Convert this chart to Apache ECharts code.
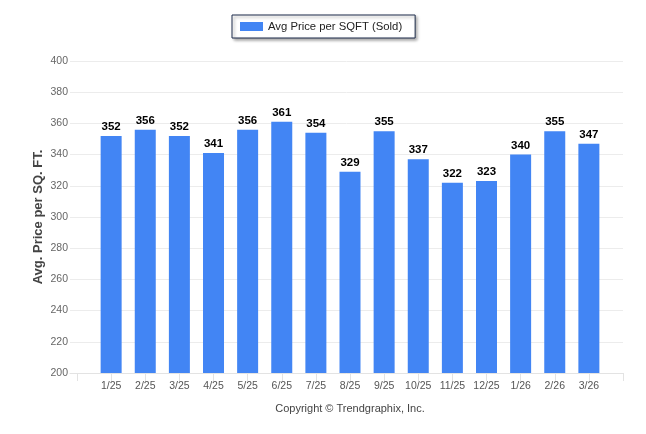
<!DOCTYPE html>
<html>
<head>
<meta charset="utf-8">
<script src="https://cdn.jsdelivr.net/npm/echarts@6/dist/echarts.min.js"></script>
<style>html,body{margin:0;padding:0;background:#fff}#c{width:646px;height:434px}</style>
</head>
<body>
<div id="c"></div>
<script>
var categories = ['1/25','2/25','3/25','4/25','5/25','6/25','7/25','8/25','9/25','10/25','11/25','12/25','1/26','2/26','3/26'];
var values = [352,356,352,341,356,361,354,329,355,337,322,323,340,355,347];
var yTicks = [200,220,240,260,280,300,320,340,360,380,400];
var seriesName = 'Avg Price per SQFT (Sold)';

var chart = echarts.init(document.getElementById('c'));
var FONT = '"Liberation Sans", Arial, sans-serif';
var tickIdx = [];
for (var i = -1; i <= categories.length; i++) tickIdx.push(i);
var labelIdx = categories.map(function(_, i){ return i; });

chart.setOption({
  animation: false,
  textStyle: {fontFamily: FONT},
  legend: {
    top: 15, left: 232,
    data: [seriesName],
    itemWidth: 23, itemHeight: 9, itemGap: 4,
    padding: [6, 13, 6, 8],
    borderColor: '#1c2b4a', borderWidth: 1, borderRadius: 0,
    backgroundColor: '#fff',
    shadowColor: 'rgba(0,0,0,0.35)', shadowBlur: 3, shadowOffsetX: 2, shadowOffsetY: 2,
    textStyle: {fontSize: 11.3, color: '#222', fontFamily: FONT},
    icon: 'rect'
  },
  grid: {left: 70, right: 23, top: 61, bottom: 61, containLabel: false},
  xAxis: {
    type: 'value',
    min: -1 - 7/34.06, max: categories.length,
    axisLine: {show: true, lineStyle: {color: '#e3e3e3'}},
    axisTick: {show: true, customValues: tickIdx, length: 8, lineStyle: {color: '#e3e3e3'}},
    axisLabel: {
      customValues: labelIdx,
      formatter: function(v){ return categories[Math.round(v)] || ''; },
      color: '#555', fontSize: 10.5, margin: 8, fontFamily: FONT
    },
    splitLine: {show: false}
  },
  yAxis: {
    type: 'value', min: yTicks[0], max: yTicks[yTicks.length-1], interval: 20,
    name: 'Avg. Price per SQ. FT.', nameLocation: 'middle', nameGap: 25, nameMoveOverlap: false,
    nameTextStyle: {fontSize: 13, fontWeight: 'bold', color: '#444', fontFamily: FONT},
    axisLine: {show: false}, axisTick: {show: false},
    axisLabel: {color: '#666', fontSize: 10.5, margin: 2, fontFamily: FONT},
    splitLine: {lineStyle: {color: '#ececec'}}
  },
  series: [{
    name: seriesName,
    type: 'bar',
    barWidth: 21,
    data: values.map(function(v, i){ return [i, v]; }),
    itemStyle: {color: '#4285f4'},
    label: {show: true, position: 'top', distance: 3, fontWeight: 'bold', fontSize: 11.5, color: '#000', fontFamily: FONT,
      formatter: function(p){ return p.value[1]; }}
  }],
  graphic: [{
    type: 'text', x: 350, y: 403,
    style: {text: 'Copyright \u00a9 Trendgraphix, Inc.', fill: '#444', font: '11px ' + FONT, align: 'center'}
  }]
});
</script>
</body>
</html>
